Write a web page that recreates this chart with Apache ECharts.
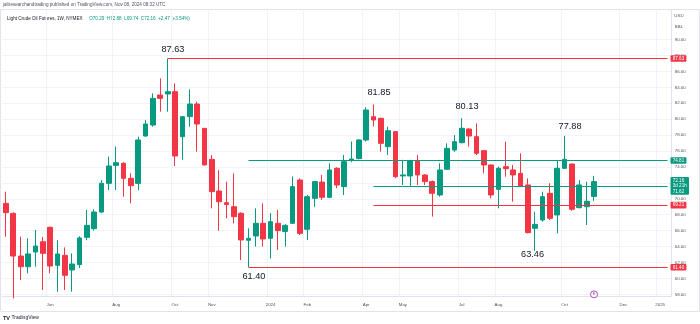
<!DOCTYPE html>
<html><head><meta charset="utf-8">
<script src="https://cdn.jsdelivr.net/npm/echarts@6/dist/echarts.min.js"></script>
<style>html,body{margin:0;padding:0;background:#fff}#c{width:700px;height:324px}</style>
</head><body><div id="c"></div>
<script>
// ---- data ----
const firstWeek = '2023-04-24';
const totalWeeks = 91; // 81 candles + right offset
const opens  = [69.43,68.17,62.81,61.47,63.32,64.61,66.42,61.64,62.90,61.06,61.73,65.16,66.25,68.34,71.95,74.20,74.46,72.57,71.94,77.89,79.27,83.04,83.17,83.46,77.80,80.32,81.91,78.85,74.96,70.98,69.51,69.01,68.18,64.79,65.33,66.92,65.04,66.92,65.90,66.92,72.36,66.17,70.06,72.10,70.19,73.83,71.53,74.85,75.05,77.39,80.32,80.11,76.55,78.44,72.87,72.87,74.79,72.99,72.16,70.48,73.71,76.13,77.05,78.77,77.81,76.05,74.25,71.19,74.04,73.62,73.20,71.74,66.29,67.34,70.69,67.97,73.83,74.37,68.89,69.01,70.29];
const closes = [68.26,62.81,61.47,63.07,64.07,63.15,61.56,63.07,60.39,61.81,65.08,66.67,68.34,71.95,74.12,74.54,72.57,71.65,77.39,79.40,82.62,82.62,83.46,75.38,80.32,81.91,79.40,74.25,70.90,69.64,69.27,67.76,64.83,65.04,66.92,64.95,67.13,66.00,66.67,71.53,65.66,70.27,72.16,70.19,73.62,71.74,74.67,75.00,77.39,81.16,79.90,76.97,78.56,72.78,73.00,74.79,73.00,72.16,70.69,73.62,76.34,77.18,78.86,77.89,75.71,74.25,70.48,73.83,73.79,73.00,71.61,65.75,66.79,70.27,67.55,73.83,74.96,68.68,71.74,69.69,72.16];
const highs  = [70.90,68.30,65.24,65.03,66.08,65.20,66.50,64.80,63.90,63.15,65.30,68.59,68.68,72.36,75.30,76.55,74.60,73.20,77.80,79.90,83.25,85.13,87.63,84.50,80.40,83.75,82.20,78.90,75.50,73.60,72.15,73.20,68.30,66.29,68.80,69.43,68.20,68.60,66.80,72.80,72.57,70.48,72.20,73.00,74.46,73.96,75.50,77.20,77.50,81.50,81.85,80.20,79.06,78.50,74.90,74.90,75.50,73.10,72.30,74.46,76.97,78.00,80.13,78.86,79.48,76.10,74.30,74.04,77.18,74.25,75.71,72.57,68.39,70.90,71.95,74.88,77.88,74.40,72.36,72.15,72.88];
const lows   = [65.24,57.50,59.80,60.64,61.47,58.54,60.64,58.33,58.54,58.33,61.30,64.80,66.00,68.20,71.10,71.10,70.27,69.43,71.10,77.80,79.06,80.95,80.95,74.12,74.90,79.06,75.92,74.20,68.80,66.00,67.55,66.90,62.31,61.40,64.00,64.00,62.50,63.57,64.00,66.90,65.45,64.83,69.00,69.85,70.06,71.32,70.48,74.60,74.96,77.20,79.10,75.93,75.50,72.60,71.74,71.53,71.74,71.74,67.76,70.27,73.62,75.90,76.97,76.55,75.50,73.20,70.06,68.80,72.78,69.64,71.53,65.66,63.46,67.13,67.34,65.66,73.79,68.50,68.80,66.71,69.74];
const tickDates  = ['2023-06-05','2023-08-07','2023-10-02','2023-11-06','2024-01-01','2024-02-05','2024-04-01','2024-05-06','2024-07-01','2024-08-05','2024-10-07','2024-12-02','2025-01-06'];
const tickLabels = ['Jun','Aug','Oct','Nov','2024','Feb','Apr','May','Jul','Aug','Oct','Dec','2025'];
const priceTicks = [58,60,62,64,66,68,70,72,74,76,78,80,82,84,86,88,90];
// annotated extremes: [candle index, price]
const extremes = [[22,87.63],[50,81.85],[62,80.13],[76,77.88],[72,63.46],[33,61.40]];
// horizontal levels: [start index, price, kind]
const levels = [[22,87.63,'r'],[33,74.81,'g'],[50,71.62,'g'],[50,69.21,'r'],[33,61.40,'r']];
const lastPrice = 72.16;

// ---- build ----
const dates = [];
(function(){const d=new Date(firstWeek+'T00:00:00Z');for(let i=0;i<totalWeeks;i++){dates.push(d.toISOString().slice(0,10));d.setUTCDate(d.getUTCDate()+7);}})();
const candles = opens.map((o,i)=>[o,closes[i],lows[i],highs[i]]);
const UP='#089981', DN='#f23645';
const FF="'Liberation Sans', Arial, sans-serif";
const isTick=(i,v)=>tickDates.indexOf(v)>=0;

const exOffsets=[[5.3,-9],[5.5,-12.5],[5.3,-12],[5.4,-10],[-2.7,4],[5.4,8.7]];
const markPts = extremes.map((e,k)=>({coord:[dates[e[0]],e[1]],value:e[1].toFixed(2),
  symbol:'circle',symbolSize:1,itemStyle:{color:'rgba(0,0,0,0)'},
  label:{show:true,position:'inside',offset:exOffsets[k],formatter:e[1].toFixed(2),color:'#131722',fontSize:9.2,fontFamily:FF}}));
markPts.push({coord:[dates[80],58.0],symbol:'circle',symbolSize:7,itemStyle:{color:'#fff',borderColor:'#9c27b0',borderWidth:0.8},
  label:{show:true,position:'inside',formatter:'E',color:'#9c27b0',fontSize:4,fontFamily:FF}});

const lvLines = levels.map(l=>{
  const col = l[2]==='r'?DN:UP;
  let txt = l[1].toFixed(2);
  if (Math.abs(l[1]-71.62)<0.001) txt = lastPrice.toFixed(2)+'\n3d 21h\n'+txt;
  return [{coord:[dates[l[0]],l[1]],lineStyle:{color:col,width:1,type:'solid'},
    label:{show:true,position:'end',distance:3,formatter:txt,color:'#fff',backgroundColor:col,
      fontSize:4.6,lineHeight:5.6,padding:[0.6,2.2,0.4,2.2],borderRadius:1,fontFamily:FF}},
    {coord:[dates[totalWeeks-1],l[1]]}];
});

const chart = echarts.init(document.getElementById('c'),null,{renderer:'canvas'});
chart.setOption({
  animation:false,
  backgroundColor:'#ffffff',
  grid:{left:2.3,right:28.8,top:10,bottom:28,containLabel:false},
  xAxis:{type:'category',data:dates,boundaryGap:true,
    axisLine:{show:true,lineStyle:{color:'#e0e3eb',width:1}},
    axisTick:{show:false},
    axisLabel:{interval:isTick,formatter:(v)=>{const k=tickDates.indexOf(v);return k>=0?tickLabels[k]:'';},
      color:'#50535e',fontSize:4.4,margin:6.5,fontFamily:FF,hideOverlap:false},
    splitLine:{show:true,interval:isTick,lineStyle:{color:'#f0f3fa',width:1}}},
  yAxis:{type:'value',position:'right',min:57.79,max:93.72,scale:true,
    axisLine:{show:true,lineStyle:{color:'#e0e3eb',width:1}},
    axisTick:{show:false,customValues:priceTicks},
    axisLabel:{customValues:priceTicks,formatter:(v)=>v.toFixed(2),color:'#50535e',fontSize:4.4,margin:3.5,align:'left',fontFamily:FF},
    splitLine:{show:true,lineStyle:{color:'#f0f3fa',width:1}}},
  series:[{type:'candlestick',data:candles,barWidth:5.2,
    itemStyle:{color:UP,color0:DN,borderColor:UP,borderColor0:DN,borderWidth:1},
    markPoint:{silent:true,data:markPts},
    markLine:{silent:true,symbol:['none','none'],data:lvLines}}],
  graphic:[
    {type:'rect',shape:{x:0.5,y:9.5,width:699,height:302},style:{fill:'none',stroke:'#e0e3eb',lineWidth:1},silent:true,z:-1},
    {type:'text',left:3,top:2.5,style:{text:'jaltresearchandtrading published on TradingView.com, Nov 08, 2024 08:32 UTC',fill:'#50535e',fontSize:4.6,fontFamily:FF}},
    {type:'text',left:7,top:13,style:{text:'{a|Light Crude Oil Futures, 1W, NYMEX}  {b|O70.29  H72.88  L69.74  C72.16  +2.47 (+3.54%)}',
      rich:{a:{fill:'#131722',fontSize:4.6,fontFamily:FF},b:{fill:UP,fontSize:4.6,fontFamily:FF}}}},
    {type:'text',x:679,y:16,style:{text:'USD',fill:'#50535e',fontSize:4.4,fontFamily:FF,align:'center',verticalAlign:'middle'}},
    {type:'text',x:679,y:27,style:{text:'BBL',fill:'#50535e',fontSize:4.4,fontFamily:FF,align:'center',verticalAlign:'middle'}},
    {type:'text',left:3,top:315,style:{text:'{l|TV} TradingView',rich:{l:{fill:'#131722',fontSize:5.5,fontWeight:'bold',fontFamily:FF}},fill:'#131722',fontSize:5,fontFamily:FF}}
  ]
});
</script></body></html>
